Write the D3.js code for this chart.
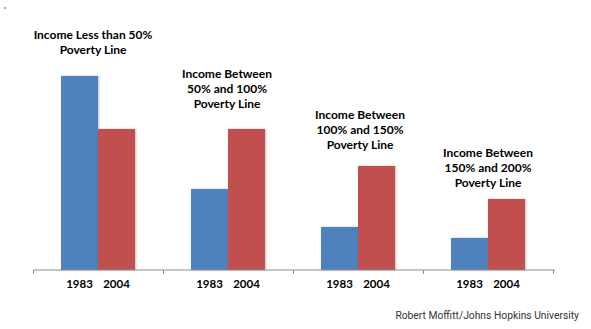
<!DOCTYPE html>
<html><head><meta charset="utf-8">
<script src="https://cdn.jsdelivr.net/npm/d3@7"></script>
<style>body{margin:0;background:#fff}svg{display:block}</style>
</head><body>
<svg id="c" width="591" height="329"></svg>
<script>
const categories = ["<50", "50-100", "100-150", "150-200"];
const titles = [
  ["Income Less than 50%", "Poverty Line"],
  ["Income Between", "50% and 100%", "Poverty Line"],
  ["Income Between", "100% and 150%", "Poverty Line"],
  ["Income Between", "150% and 200%", "Poverty Line"]
];
const years = ["1983", "2004"];
const values1983 = [9.7, 4.05, 2.15, 1.6];
const values2004 = [7.05, 7.05, 5.2, 3.55];
const source = "Robert Moffitt/Johns Hopkins University";

const svg = d3.select("#c");
const baseY = 270;
const y = d3.scaleLinear().domain([0, 10]).range([baseY, baseY - 200]);
const x = d3.scaleBand().domain(categories).range([33, 553]).padding(0);
const xi = d3.scaleBand().domain(years).range([28, 102]).padding(0);
const colors = {"1983": "#4F81BD", "2004": "#C0504D"};
const series = {"1983": values1983, "2004": values2004};
const titleGap = [26, 25, 21, 16];
const titleShift = [-5, -1, 2, 0];

svg.append("circle").attr("cx", 5).attr("cy", 8).attr("r", 0.8).attr("fill", "#2233cc");

const defs = svg.append("defs");
const f = defs.append("filter").attr("id", "sh").attr("x", "-10%").attr("y", "-10%").attr("width", "130%").attr("height", "130%");
f.append("feDropShadow").attr("dx", 1).attr("dy", 0).attr("stdDeviation", 0.8).attr("flood-color", "#000").attr("flood-opacity", 0.25);

const g = svg.append("g");
categories.forEach((c, i) => {
  const gx = x(c);
  years.forEach(yr => {
    const v = series[yr][i];
    g.append("rect")
      .attr("x", gx + xi(yr)).attr("width", xi.bandwidth())
      .attr("y", y(v)).attr("height", baseY - y(v))
      .attr("fill", colors[yr]).attr("filter", "url(#sh)");
    g.append("text")
      .attr("x", gx + xi(yr) + xi.bandwidth() / 2)
      .attr("y", baseY + 17.5)
      .attr("text-anchor", "middle")
      .attr("font-family", "Lato, 'Open Sans', sans-serif")
      .attr("font-weight", "bold").attr("font-size", 11.5)
      .attr("fill", "#000").text(yr);
  });
  const top = y(Math.max(values1983[i], values2004[i]));
  const lines = titles[i];
  const lastCenter = top - titleGap[i];
  const lh = 15.3;
  lines.forEach((t, k) => {
    g.append("text")
      .attr("x", gx + x.bandwidth() / 2 + titleShift[i])
      .attr("y", lastCenter - (lines.length - 1 - k) * lh + 4.3)
      .attr("text-anchor", "middle")
      .attr("font-family", "Lato, 'Open Sans', sans-serif")
      .attr("font-weight", "bold").attr("font-size", 12)
      .attr("fill", "#000").text(t);
  });
});

const axis = d3.axisBottom(x).tickSize(0).tickFormat("");
const ag = svg.append("g").attr("transform", `translate(0,${baseY})`).call(axis);
ag.select(".domain").attr("stroke", "#8c8c8c").attr("d", "M33.5,0H555");
const tickPos = [33].concat(categories.map(c => x(c) + x.bandwidth()));
ag.selectAll(".sep").data(tickPos).enter().append("line")
  .attr("x1", d => Math.round(d) + 0.5).attr("x2", d => Math.round(d) + 0.5)
  .attr("y1", 0).attr("y2", 4).attr("stroke", "#8c8c8c");

svg.append("text").attr("x", 579).attr("y", 319).attr("text-anchor", "end")
  .attr("font-family", "Roboto, sans-serif").attr("font-size", 10.3)
  .attr("fill", "#333").text(source);
</script>
</body></html>
